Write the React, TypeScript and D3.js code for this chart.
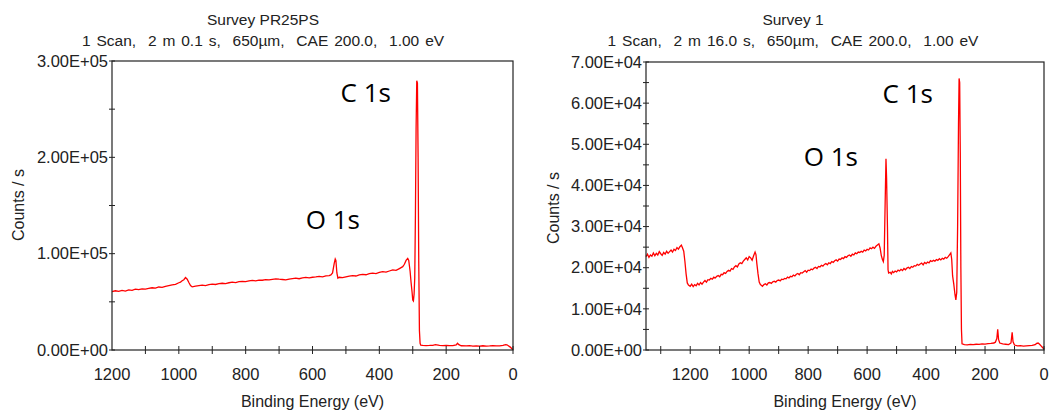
import React from "react";
import * as d3 from "d3";

// ---- Data: left panel (Survey PR25PS) ----
const leftEnergy = [1200,1190,1180,1170,1160,1150,1140,1130,1120,1110,1100,1090,1080,1070,1060,1050,1040,1030,1020,1010,1000,995,990,985,980,975,970,965,960,950,940,930,920,910,900,890,880,870,860,850,840,830,820,810,800,790,780,770,760,750,740,730,720,710,700,690,680,670,660,650,640,630,620,610,600,590,580,570,560,550,545,540,535,532,530,527,524,520,510,500,490,480,470,460,450,440,430,420,410,400,390,380,370,360,350,340,330,325,320,315,312,308,305,302,300,298,296,294,292,290,288,286,284,282,280,278,276,270,260,250,240,232,228,220,210,200,190,180,170,166,162,155,140,130,120,110,100,90,80,70,60,50,40,30,22,18,14,8,4,0];
const leftCounts = [60500,61500,60800,61900,61200,62400,62000,63100,62600,63500,63200,63900,64600,64200,65400,65000,66100,66800,67500,68200,69800,70500,71800,73000,75200,73500,70000,67000,65500,66200,66800,67400,66900,67800,68300,68000,68800,69300,69000,69800,70400,70000,70900,71300,71000,71700,72300,71800,72600,72400,73000,72700,73400,73900,73500,73200,72800,73600,74100,74600,74000,74800,75300,74900,75500,75800,76400,76000,76900,77300,78000,80000,90000,94500,93000,80000,74500,75500,75100,76000,76600,77200,76800,77900,78500,78100,79200,79800,79300,80500,81300,80800,82000,83200,82600,84500,86500,89000,93000,95000,93000,82000,70000,60000,52000,51000,58000,75000,140000,230000,279500,277000,200000,90000,20000,7000,5000,4800,4600,4700,4900,5500,5400,4800,4600,4700,4500,4600,5200,7000,5500,4400,4200,4500,4000,4300,4100,4400,4000,4200,4500,4300,4200,4800,5500,5400,4500,3000,1500,300];

// ---- Data: right panel (Survey 1) ----
const rightEnergy = [1350,1345,1340,1335,1330,1325,1320,1315,1310,1305,1300,1295,1290,1285,1280,1275,1270,1265,1260,1255,1250,1245,1240,1235,1230,1226,1222,1218,1214,1210,1206,1200,1195,1190,1185,1180,1175,1170,1165,1160,1155,1150,1145,1140,1135,1130,1125,1120,1115,1110,1105,1100,1095,1090,1085,1080,1075,1070,1065,1060,1055,1050,1045,1040,1035,1030,1025,1020,1015,1010,1005,1000,995,990,985,980,977,974,970,966,962,958,955,950,945,940,935,930,925,920,915,910,905,900,895,890,885,880,875,870,865,860,855,850,845,840,835,830,825,820,815,810,805,800,795,790,785,780,775,770,765,760,755,750,745,740,735,730,725,720,715,710,705,700,695,690,685,680,675,670,665,660,655,650,645,640,635,630,625,620,615,610,605,600,595,590,585,580,575,570,565,560,556,552,548,545,542,539,536,534,531,529,527,522,518,514,510,505,500,495,490,485,480,475,470,465,460,455,450,445,440,435,430,425,420,415,410,405,400,395,390,385,380,375,370,365,360,355,350,345,340,335,330,325,320,316,313,310,306,302,299,296,293,290,288,286,284,282,280,278,270,260,250,240,230,220,210,200,190,180,170,165,160,157,154,150,140,130,120,112,108,105,100,90,80,70,60,50,40,30,25,20,15,10,5,0];
const rightCounts = [22700,23300,22500,23100,22800,23600,22900,23500,23100,23900,23400,23000,23700,23300,24000,23500,23900,24300,23800,24500,24200,24900,24500,25100,25500,24800,24000,21500,18500,16300,15800,15500,16000,15400,15900,15600,16200,15800,16400,16000,16500,16900,16500,17100,17000,17400,17200,17700,17500,17900,18100,17800,18400,18300,18800,18600,19100,19400,19200,19800,19600,20200,20500,20200,20900,21200,21000,21600,22000,22400,21900,22700,22400,21800,22900,23800,23200,21000,18500,16500,15900,15700,15500,15900,16100,15800,16300,16400,16200,16600,16700,16500,16900,17000,16800,17200,17100,17400,17300,17700,17500,17900,17800,18200,18000,18400,18600,18300,18800,18700,19000,19300,18900,19400,19300,19700,19500,19900,20100,19800,20300,20200,20600,20400,20800,21000,20700,21200,21000,21500,21300,21700,21900,21600,22100,22000,22400,22200,22700,22500,22900,23100,22800,23300,23100,23600,23400,23800,23700,24000,23800,24300,24100,24500,24300,24800,24600,25000,24700,25200,25500,25800,24800,23000,22000,21500,23000,35000,46500,42000,30000,19500,18700,18900,18500,19100,18800,19200,19000,19400,19200,19600,19300,19800,19500,19900,20100,19800,20300,20100,20500,20400,20800,20600,20900,21100,20700,21300,21000,21400,21200,21700,21500,21800,21600,22000,21800,22200,21900,22300,22100,22500,22300,22700,23200,23600,22000,18000,16000,13500,12200,14000,30000,55000,66000,65000,48000,20000,5000,1500,1300,1250,1350,1300,1400,1350,1500,1450,1550,1600,1700,1900,2800,5000,2500,1700,1500,1400,1300,1700,4300,2000,1200,1000,1050,950,1000,1050,1100,1300,1600,1700,1400,1000,600,200];

const leftYTicks = [0, 100000, 200000, 300000];
const rightYTicks = [0, 10000, 20000, 30000, 40000, 50000, 60000, 70000];
const xTickLabels = [1200, 1000, 800, 600, 400, 200, 0];

const AXIS_FONT = "'Liberation Sans', Arial, sans-serif";
const PEAK_FONT = "'Open Sans', 'Noto Sans', sans-serif";

type PanelProps = {
  energy: number[];
  counts: number[];
  x0: number; x1: number; yTop: number; yBottom: number;
  eMax: number; cMax: number;
  yTicks: number[]; yMinorStep: number;
  title: string; subtitle: string;
  centerX: number; yLabelX: number; yLabelY: number;
  peaks: { text: string; x: number; y: number }[];
};

function fmtE(v: number) {
  if (v === 0) return "0.00E+00";
  const e = Math.floor(Math.log10(v));
  const m = v / Math.pow(10, e);
  return m.toFixed(2) + "E+" + String(e).padStart(2, "0");
}

function Panel(p: PanelProps) {
  const x = d3.scaleLinear().domain([p.eMax, 0]).range([p.x0, p.x1]);
  const y = d3.scaleLinear().domain([0, p.cMax]).range([p.yBottom, p.yTop]);
  const pts: [number, number][] = p.energy.map((e, i) => [e, p.counts[i]]);
  const line = d3.line<[number, number]>().x(d => x(d[0])).y(d => y(d[1]));
  const xMinor = d3.range(0, p.eMax + 1, 100).filter(v => v < p.eMax);
  const yMinor = d3.range(0, p.cMax + 1, p.yMinorStep);
  const axisColor = "#222";
  return (
    <g>
      <text x={p.centerX} y={25} textAnchor="middle" fontFamily={AXIS_FONT} fontSize={15.5} fill="#222">{p.title}</text>
      <text x={p.centerX} y={46} textAnchor="middle" fontFamily={AXIS_FONT} fontSize={15.5} wordSpacing={1.6} fill="#222" style={{ whiteSpace: "pre" }}>{p.subtitle}</text>
      <path d={line(pts) || ""} fill="none" stroke="#ff0000" strokeWidth={1.3} />
      <rect x={p.x0} y={p.yTop} width={p.x1 - p.x0} height={p.yBottom - p.yTop} fill="none" stroke={axisColor} strokeWidth={1.2} />
      {yMinor.map(v => (
        <line key={"ym" + v} x1={p.x0 - 3} x2={p.x0 + 3} y1={y(v)} y2={y(v)} stroke={axisColor} strokeWidth={1} />
      ))}
      {p.yTicks.map(v => (
        <text key={"yt" + v} x={p.x0 - 4} y={y(v)} dy="0.35em" textAnchor="end" fontFamily={AXIS_FONT} fontSize={16.5} fill="#222">{fmtE(v)}</text>
      ))}
      {xMinor.map(v => (
        <line key={"xm" + v} x1={x(v)} x2={x(v)} y1={p.yBottom - 4} y2={p.yBottom + 4} stroke={axisColor} strokeWidth={1} />
      ))}
      {xTickLabels.filter(v => v <= p.eMax).map(v => (
        <text key={"xt" + v} x={x(v)} y={374} dy="0.35em" textAnchor="middle" fontFamily={AXIS_FONT} fontSize={16.5} fill="#222">{v}</text>
      ))}
      <text x={(p.x0 + p.x1) / 2} y={401} dy="0.35em" textAnchor="middle" fontFamily={AXIS_FONT} fontSize={16} fill="#222">Binding Energy (eV)</text>
      <text transform={`translate(${p.yLabelX},${p.yLabelY}) rotate(-90)`} dy="0.35em" textAnchor="middle" fontFamily={AXIS_FONT} fontSize={16} fill="#222">Counts / s</text>
      {p.peaks.map(pk => (
        <text key={pk.text} x={pk.x} y={pk.y} textAnchor="end" fontFamily={PEAK_FONT} fontSize={26} fill="#000">{pk.text}</text>
      ))}
    </g>
  );
}

export default function App() {
  return (
    <svg width={1049} height={412} style={{ position: "absolute", left: 0, top: 0, background: "#fff" }}>
      <rect width={1049} height={412} fill="#fff" />
      <Panel
        energy={leftEnergy} counts={leftCounts}
        x0={112} x1={513} yTop={61} yBottom={350}
        eMax={1200} cMax={300000}
        yTicks={leftYTicks} yMinorStep={50000}
        title="Survey PR25PS" subtitle="1 Scan,  2 m 0.1 s,  650µm,  CAE 200.0,  1.00 eV"
        centerX={263} yLabelX={18} yLabelY={205}
        peaks={[{ text: "C 1s", x: 391, y: 102 }, { text: "O 1s", x: 360, y: 229 }]}
      />
      <Panel
        energy={rightEnergy} counts={rightCounts}
        x0={646} x1={1044} yTop={62} yBottom={350}
        eMax={1350} cMax={70000}
        yTicks={rightYTicks} yMinorStep={5000}
        title="Survey 1" subtitle="1 Scan,  2 m 16.0 s,  650µm,  CAE 200.0,  1.00 eV"
        centerX={793} yLabelX={553} yLabelY={208}
        peaks={[{ text: "C 1s", x: 933, y: 103 }, { text: "O 1s", x: 858, y: 166 }]}
      />
    </svg>
  );
}
